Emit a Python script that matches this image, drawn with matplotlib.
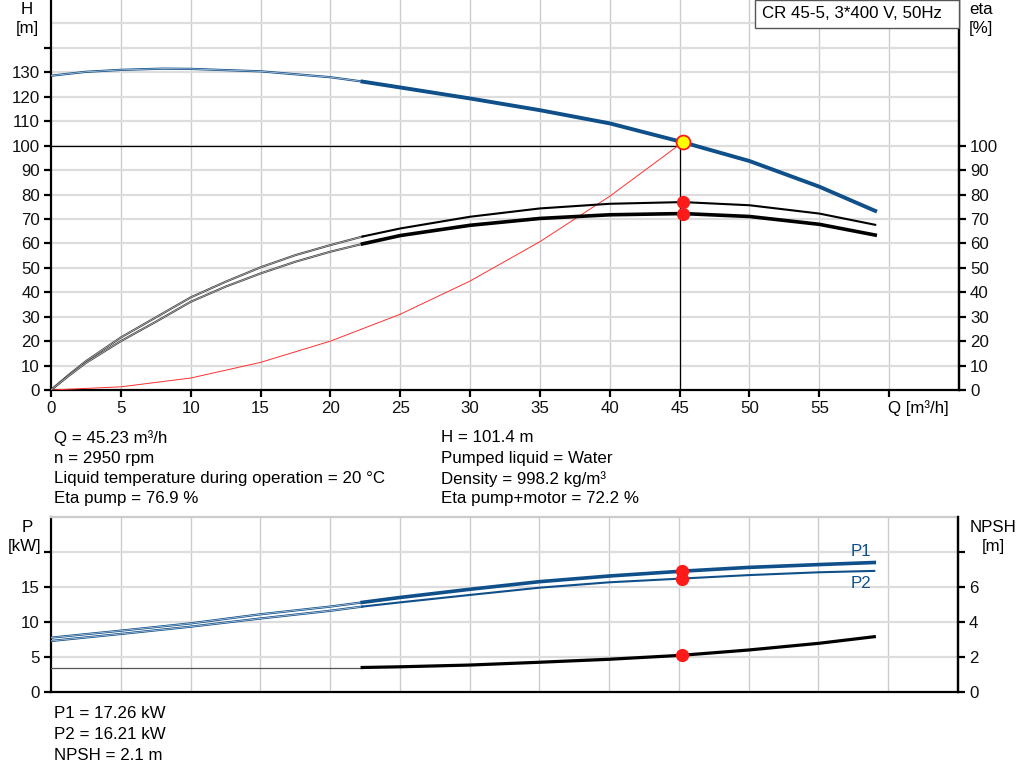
import matplotlib
matplotlib.use("Agg")
import matplotlib.pyplot as plt
import matplotlib.patheffects as pe
from matplotlib.patches import Rectangle

plt.rcParams['font.family'] = ['Liberation Sans', 'DejaVu Sans']

# ---------------- data ----------------
q_op = 45.23
h_op = 101.4
eta_p_op = 76.9
eta_pm_op = 72.2
p1_op = 17.26
p2_op = 16.21
npsh_op = 2.1
q_guide = 45.0      # guide lines
h_guide = 99.8

q_thin_h = [0, 2.5, 5, 8, 10, 15, 20, 22.3]
h_thin = [128.6, 130.2, 131.0, 131.5, 131.4, 130.4, 128.0, 126.2]
q_thick = [22.3, 25, 30, 35, 40, 45.23, 50, 55, 59]
h_thick = [126.2, 123.8, 119.3, 114.5, 109.1, 101.4, 93.7, 83.2, 73.3]

q_thin_eta = [0, 1.25, 2.5, 5, 7.5, 10, 12.5, 15, 17.5, 20, 22.3]
eta_pump_thin = [0, 6.1, 11.8, 21.5, 29.7, 37.9, 44.3, 50.2, 55.2, 59.3, 62.8]
eta_pm_thin = [0, 5.7, 11.1, 20.0, 27.9, 36.1, 42.3, 47.7, 52.5, 56.6, 59.8]
eta_pump_thick = [62.8, 66.1, 70.9, 74.3, 76.2, 76.9, 75.6, 72.2, 67.6]
eta_pm_thick = [59.8, 63.2, 67.4, 70.2, 71.7, 72.2, 71.0, 67.8, 63.4]

q_sys = [0, 5, 10, 15, 20, 25, 30, 35, 40, 45.23]
h_sys = [0, 1.3, 4.9, 11.3, 20.0, 31.0, 44.6, 60.7, 79.3, 101.4]

q_thin_p = [0, 5, 10, 15, 20, 22.3]
p1_thin = [7.76, 8.76, 9.8, 11.1, 12.2, 12.8]
p2_thin = [7.29, 8.29, 9.33, 10.5, 11.6, 12.2]
p1_thick = [12.8, 13.5, 14.67, 15.76, 16.57, 17.26, 17.8, 18.2, 18.5]
p2_thick = [12.2, 12.8, 13.86, 14.9, 15.67, 16.21, 16.7, 17.1, 17.3]

q_thin_npsh = [0, 22.3]
npsh_thin = [1.40, 1.40]
npsh_thick = [1.40, 1.44, 1.54, 1.70, 1.87, 2.1, 2.4, 2.78, 3.16]

x_ticks = [0, 5, 10, 15, 20, 25, 30, 35, 40, 45, 50, 55, 60]
x_labels = ['0', '5', '10', '15', '20', '25', '30', '35', '40', '45', '50', '55', '']
h_ticks = [0, 10, 20, 30, 40, 50, 60, 70, 80, 90, 100, 110, 120, 130, 140]
eta_ticks = [0, 10, 20, 30, 40, 50, 60, 70, 80, 90, 100]
p_ticks = [0, 5, 10, 15, 20]
npsh_ticks = [0, 2, 4, 6, 8]

info_left = ["Q = 45.23 m³/h", "n = 2950 rpm",
             "Liquid temperature during operation = 20 °C", "Eta pump = 76.9 %"]
info_right = ["H = 101.4 m", "Pumped liquid = Water",
              "Density = 998.2 kg/m³", "Eta pump+motor = 72.2 %"]
info_bottom = ["P1 = 17.26 kW", "P2 = 16.21 kW", "NPSH = 2.1 m"]
title_box = "CR 45-5, 3*400 V, 50Hz"

# ---------------- style ----------------
BLUE = '#0f4f8a'
FS = 12.2
W, H = 1024, 781

fig = plt.figure(figsize=(W / 100, H / 100), dpi=100)

def fx(px):
    return px / W

def fy(py):
    return 1 - py / H

def thin_pe(color, width=1.6):
    return [pe.Stroke(linewidth=width, foreground=color), pe.Normal()]

def style_axes(ax):
    for s in ['left', 'bottom', 'right']:
        ax.spines[s].set_linewidth(1.6)
        ax.spines[s].set_color('black')
    ax.tick_params(axis='both', labelsize=FS, colors='black', width=1.6, length=5,
                   labelcolor='#111111', pad=3)

# ---------- top axes ----------
ax1 = fig.add_axes([fx(51), fy(390), fx(959) - fx(51), fy(-1) - fy(390)])
ax1.set_xlim(0, 65)
ax1.set_ylim(0, 160)
for v in x_ticks[1:]:
    ax1.axvline(v, color='#cccccc', lw=1.0, zorder=0)
for v in range(10, 160, 10):
    ax1.axhline(v, color='#dddddd', lw=1.6, zorder=0)
style_axes(ax1)
ax1.spines['top'].set_visible(False)
ax1.set_xticks(x_ticks)
ax1.set_xticklabels(x_labels)
ax1.set_yticks(h_ticks)
ax1.set_yticklabels([str(t) if t < 140 else '' for t in h_ticks])

ax1r = ax1.twinx()
ax1r.set_ylim(0, 160)
ax1r.set_yticks(eta_ticks)
ax1r.set_yticklabels([str(t) for t in eta_ticks])
for s in ['left', 'top', 'bottom']:
    ax1r.spines[s].set_visible(False)
ax1r.spines['right'].set_linewidth(1.6)
ax1r.tick_params(axis='y', labelsize=FS, width=1.6, length=5, labelcolor='#111111', pad=3)

# operating point guide lines
ax1.plot([0, q_guide], [h_guide, h_guide], color='black', lw=0.9, zorder=3)
ax1.plot([q_guide, q_guide], [0, h_guide], color='black', lw=0.9, zorder=3)

# system curve
ax1.plot(q_sys, h_sys, color='#ff3030', lw=0.7, zorder=3)

# H curve
ax1.plot(q_thin_h, h_thin, color='#c9d6e3', lw=0.5, zorder=4,
         path_effects=thin_pe(BLUE))
ax1.plot(q_thick, h_thick, color=BLUE, lw=2.8, zorder=4)

# eta curves
ax1r.plot(q_thin_eta, eta_pump_thin, color='#d0d0d0', lw=0.4, zorder=4,
          path_effects=thin_pe('#444444', 1.5))
ax1r.plot(q_thin_eta, eta_pm_thin, color='#d0d0d0', lw=0.4, zorder=4,
          path_effects=thin_pe('#444444', 1.5))
ax1r.plot(q_thick, eta_pump_thick, color='black', lw=1.5, zorder=4)
ax1r.plot(q_thick, eta_pm_thick, color='black', lw=2.6, zorder=4)

ax1r.plot([q_op], [eta_p_op], 'o', color='#ff1a1a', ms=8.5, zorder=6)
ax1r.plot([q_op], [eta_pm_op], 'o', color='#ff1a1a', ms=8.5, zorder=6)
ax1r.plot([q_op], [h_op], 'o', mfc='#ffff00', mec='#ff1a1a', mew=1.3, ms=10, zorder=7)

# axis titles
fig.text(fx(27), fy(10), 'H', ha='center', va='center', fontsize=FS)
fig.text(fx(27), fy(29), '[m]', ha='center', va='center', fontsize=FS)
fig.text(fx(981), fy(10), 'eta', ha='center', va='center', fontsize=FS)
fig.text(fx(981), fy(29), '[%]', ha='center', va='center', fontsize=FS)
fig.text(fx(888), fy(408), 'Q [m³/h]', ha='left', va='center', fontsize=FS)

# title box
fig.patches.append(Rectangle((fx(755), fy(28)), fx(959) - fx(755), fy(0) - fy(28),
                             transform=fig.transFigure, facecolor='white',
                             edgecolor='#555555', lw=1.0, zorder=10))
fig.text(fx(762), fy(14), title_box, ha='left', va='center', fontsize=FS, zorder=11)

# info text
for i, t in enumerate(info_left):
    fig.text(fx(54), fy(438 + i * 20.3), t, ha='left', va='center', fontsize=FS)
for i, t in enumerate(info_right):
    fig.text(fx(441), fy(438 + i * 20.3), t, ha='left', va='center', fontsize=FS)

# ---------- bottom axes ----------
ax2 = fig.add_axes([fx(51), fy(692), fx(958) - fx(51), fy(517) - fy(692)])
ax2.set_xlim(0, 65)
ax2.set_ylim(0, 25)
for v in x_ticks[1:]:
    ax2.axvline(v, color='#cccccc', lw=1.0, zorder=0)
for v in [5, 10, 15, 20]:
    ax2.axhline(v, color='#dddddd', lw=1.6, zorder=0)
style_axes(ax2)
ax2.spines['top'].set_color('#cccccc')
ax2.spines['top'].set_linewidth(1.6)
ax2.set_xticks(x_ticks)
ax2.tick_params(axis='x', length=0, labelbottom=False)
ax2.set_yticks(p_ticks)
ax2.set_yticklabels([str(t) if t < 20 else '' for t in p_ticks])

ax2r = ax2.twinx()
ax2r.set_ylim(0, 10)
ax2r.set_yticks(npsh_ticks)
ax2r.set_yticklabels([str(t) if t < 8 else '' for t in npsh_ticks])
for s in ['left', 'top', 'bottom']:
    ax2r.spines[s].set_visible(False)
ax2r.spines['right'].set_linewidth(1.6)
ax2r.tick_params(axis='y', labelsize=FS, width=1.6, length=5, labelcolor='#111111', pad=3)

ax2.plot(q_thin_p, p1_thin, color='#c9d6e3', lw=0.5, zorder=4,
         path_effects=thin_pe(BLUE))
ax2.plot(q_thin_p, p2_thin, color='#c9d6e3', lw=0.5, zorder=4,
         path_effects=thin_pe(BLUE))
ax2.plot(q_thick, p1_thick, color=BLUE, lw=2.6, zorder=4)
ax2.plot(q_thick, p2_thick, color=BLUE, lw=1.5, zorder=4)

ax2r.plot(q_thin_npsh, npsh_thin, color='#555555', lw=0.9, zorder=4)
ax2r.plot(q_thick, npsh_thick, color='black', lw=2.3, zorder=4)

ax2.plot([q_op], [p1_op], 'o', color='#ff1a1a', ms=8.5, zorder=6)
ax2.plot([q_op], [p2_op], 'o', color='#ff1a1a', ms=8.5, zorder=6)
ax2r.plot([q_op], [npsh_op], 'o', color='#ff1a1a', ms=8.5, zorder=6)

fig.text(fx(861), fy(551), 'P1', ha='center', va='center', fontsize=FS, color=BLUE)
fig.text(fx(861), fy(583), 'P2', ha='center', va='center', fontsize=FS, color=BLUE)

fig.text(fx(27), fy(527), 'P', ha='center', va='center', fontsize=FS)
fig.text(fx(25), fy(547), '[kW]', ha='center', va='center', fontsize=FS)
fig.text(fx(993), fy(527), 'NPSH', ha='center', va='center', fontsize=FS)
fig.text(fx(993), fy(547), '[m]', ha='center', va='center', fontsize=FS)

for i, t in enumerate(info_bottom):
    fig.text(fx(54), fy(714 + i * 20.5), t, ha='left', va='center', fontsize=FS)

fig.savefig('out.png', dpi=100, facecolor='white')
